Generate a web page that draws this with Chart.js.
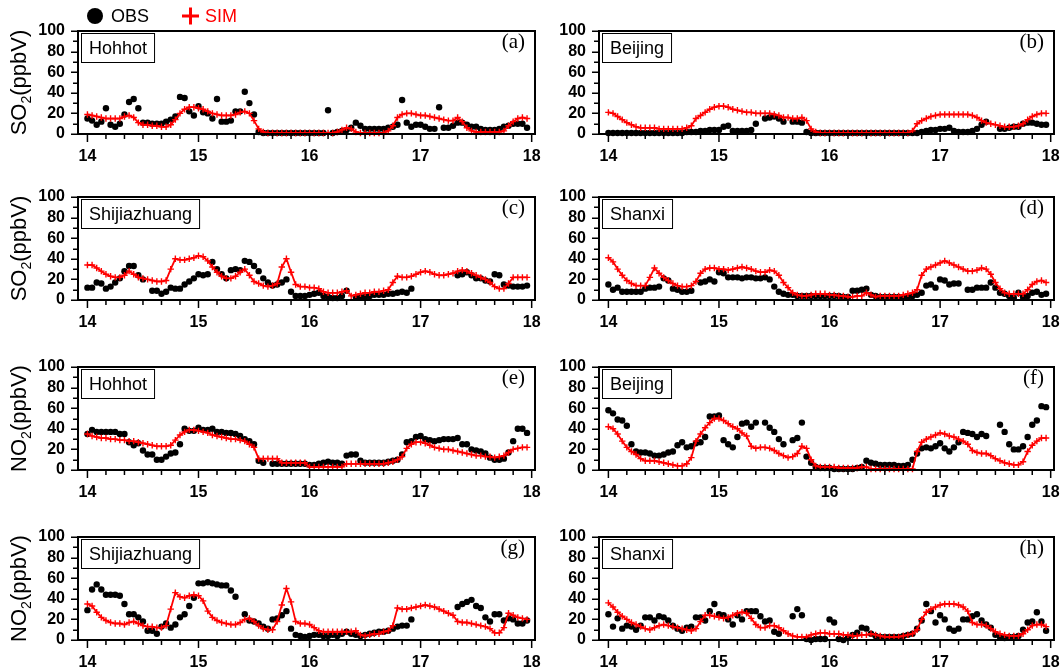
<!DOCTYPE html>
<html>
<head>
<meta charset="utf-8">
<script src="https://cdn.jsdelivr.net/npm/chart.js@4.4.1/dist/chart.umd.min.js"></script>
<style>
html,body{margin:0;padding:0;background:#fff;width:1064px;height:670px;overflow:hidden;position:relative}
canvas{position:absolute}
</style>
</head>
<body>
<canvas id="p0"></canvas><canvas id="p1"></canvas>
<canvas id="p2"></canvas><canvas id="p3"></canvas>
<canvas id="p4"></canvas><canvas id="p5"></canvas>
<canvas id="p6"></canvas><canvas id="p7"></canvas>
<script>
// ---------- DATA (hourly, day 14 00h .. day 17 23h) ----------
const startDay = 14;
const hoursPerDay = 24;
const xTickLabels = [14, 15, 16, 17, 18];
const yTickValues = [0, 20, 40, 60, 80, 100];
const sites = ['Hohhot', 'Beijing', 'Shijiazhuang', 'Shanxi', 'Hohhot', 'Beijing', 'Shijiazhuang', 'Shanxi'];
const panelTags = ['(a)', '(b)', '(c)', '(d)', '(e)', '(f)', '(g)', '(h)'];
const species = ['SO', 'SO', 'SO', 'SO', 'NO', 'NO', 'NO', 'NO'];
const legendLabels = ['OBS', 'SIM'];

const obsSO2Hohhot = [15,13,9,12,25,9,7,10,19,31,34,25,11,11,10,10,10,12,14,17,36,35,22,18,
  27,21,20,15,34,12,12,13,22,22,41,30,19,2,1,1,1,1,1,1,1,1,1,1,1,1,1,1,
  23,1,2,3,4,6,11,8,5,5,5,5,5,6,7,9,33,11,7,9,
  9,7,5,5,26,6,6,8,11,11,9,7,7,5,4,4,4,5,7,8,10,10,10,6];
const simSO2Hohhot = [19,18,17,16,15,15,15,15,17,18,16,11,9,9,8,8,7,7,9,14,20,24,26,26,
  25,24,22,20,19,18,18,18,19,21,22,20,13,5,2,1,1,1,1,1,1,1,1,1,1,1,1,1,
  1,1,2,4,6,5,2,1,1,1,1,1,1,3,8,16,19,20,20,19,
  18,18,17,16,15,14,13,13,16,12,6,3,2,2,2,2,2,2,3,8,12,15,16,15];

const obsSO2Beijing = [1,1,1,1,1,1,1,1,1,1,1,1,1,1,1,1,1,2,2,2,3,3,4,4,
  4,7,8,3,3,3,3,4,10,null,15,16,17,15,12,null,12,12,11,2,1,1,1,1,
  1,1,1,1,1,1,1,1,1,1,1,1,1,1,1,1,1,1,1,1,2,3,4,4,
  5,5,6,3,2,2,2,3,5,9,12,null,null,5,5,6,7,7,10,11,11,10,9,9];
const simSO2Beijing = [21,20,17,14,11,9,7,6,6,6,6,5,5,5,5,5,5,6,8,15,18,21,24,26,
  27,27,26,24,23,22,21,21,20,20,20,20,19,18,16,16,15,15,16,13,5,2,1,1,
  1,1,1,1,1,1,1,1,1,1,1,1,1,1,1,1,1,1,3,10,13,15,17,18,
  19,19,19,19,19,19,19,18,16,13,11,10,9,8,7,7,7,8,10,14,17,19,20,20];

const obsSO2Shijiazhuang = [12,12,17,16,11,13,17,21,28,33,33,24,20,null,9,9,6,8,12,11,11,15,18,21,
  25,24,25,37,30,25,21,29,30,29,38,37,33,28,21,17,14,15,17,20,8,4,4,4,
  5,6,7,4,3,2,2,4,9,null,3,3,3,4,5,5,5,6,6,7,8,7,11,null,
  null,null,null,null,null,null,null,null,24,25,27,24,21,21,19,18,25,24,15,14,13,13,13,14];
const simSO2Shijiazhuang = [34,34,31,28,25,23,22,22,24,28,25,22,21,20,19,18,18,19,30,40,39,39,40,41,
  43,42,38,32,27,23,21,21,23,27,30,24,18,16,14,13,14,16,32,40,27,15,13,13,
  12,12,11,8,7,7,7,8,9,4,5,6,7,7,8,8,9,10,17,23,22,22,23,25,
  27,28,27,25,24,24,25,26,28,29,28,26,24,22,20,17,13,11,11,16,22,22,22,22];

const obsSO2Shanxi = [15,10,12,8,8,8,8,8,11,12,12,13,21,19,11,10,8,8,9,null,17,18,20,18,
  27,26,22,22,22,21,22,22,21,21,22,20,13,8,6,5,5,4,4,4,4,4,4,4,
  4,4,4,3,3,9,9,10,11,5,4,3,3,3,3,3,3,3,4,5,7,14,15,12,
  20,19,15,16,16,null,10,10,12,12,12,17,12,7,6,4,2,7,3,4,7,8,5,6];
const simSO2Shanxi = [41,37,30,24,19,16,14,14,14,22,31,26,22,19,16,14,13,13,14,18,26,30,31,31,
  30,30,29,30,31,32,31,30,28,27,27,29,28,24,17,12,7,5,4,4,5,6,6,6,
  5,5,4,4,3,3,4,4,7,5,3,4,4,4,4,4,5,6,7,10,24,30,32,34,
  36,38,36,34,32,30,28,28,29,31,30,25,17,11,7,6,6,6,6,10,15,18,19,17];

const obsNO2Hohhot = [35,39,37,37,37,37,37,35,35,27,24,26,19,15,15,10,10,13,16,17,25,40,38,38,
  41,39,39,40,37,37,36,36,35,33,30,28,25,9,7,null,6,6,6,6,6,6,6,6,
  5,5,6,7,8,7,7,6,14,15,15,9,7,7,7,7,7,8,9,10,15,27,28,32,
  33,30,29,28,29,30,30,30,31,25,25,20,19,18,16,12,10,10,11,17,28,40,40,36];
const simNO2Hohhot = [35,33,32,31,31,30,30,29,29,28,28,27,26,25,24,23,23,23,24,29,34,37,39,39,
  38,37,36,34,33,32,31,30,30,29,28,25,22,11,11,11,11,11,7,7,7,7,7,7,
  3,3,3,3,3,3,3,3,6,6,6,6,6,6,6,6,6,7,8,10,13,21,25,27,
  27,26,24,22,21,20,20,19,18,17,16,15,14,14,13,13,12,13,14,17,20,21,22,22];

const obsNO2Beijing = [58,55,49,48,43,25,18,17,17,16,14,14,15,17,18,24,27,22,23,26,27,32,52,52,
  53,29,25,22,32,45,46,42,46,null,46,41,37,30,25,null,29,31,46,13,7,3,2,2,
  2,1,1,1,1,1,2,3,9,7,6,5,5,5,5,4,4,5,10,16,21,22,21,23,
  26,21,18,22,27,37,36,35,32,35,33,null,null,44,37,25,20,20,23,32,44,48,62,61];
const simNO2Beijing = [42,40,35,28,22,18,15,11,9,9,9,8,7,6,5,4,4,6,12,28,35,41,46,50,
  50,48,45,42,40,36,33,23,21,22,22,21,19,16,14,12,13,16,23,21,10,4,3,3,
  3,3,2,2,2,2,2,3,3,1,1,1,1,1,1,1,1,1,1,18,27,30,32,34,
  36,35,33,32,30,28,25,19,17,16,16,14,11,9,7,6,5,5,8,18,24,28,31,31];

const obsNO2Shijiazhuang = [29,49,54,49,44,44,44,43,35,25,25,22,18,9,9,6,13,16,12,15,22,25,33,41,
  55,55,56,55,54,53,53,48,42,null,25,19,18,16,13,11,20,21,24,28,11,5,4,3,
  4,5,5,4,4,5,4,6,8,6,5,4,5,6,7,8,8,9,11,13,14,14,20,null,
  null,null,null,null,null,null,null,null,32,35,37,39,33,31,22,18,25,25,19,21,20,16,16,19];
const simNO2Shijiazhuang = [35,33,27,22,19,17,16,16,15,17,18,16,14,13,13,12,12,14,30,46,42,41,43,44,
  43,38,28,22,19,17,16,15,15,17,20,21,18,14,11,10,10,18,34,50,37,18,16,16,
  15,12,9,8,8,8,8,8,8,8,9,5,4,5,6,6,8,9,14,31,30,30,31,32,
  33,34,33,32,30,28,26,24,18,17,17,16,15,14,13,11,7,7,12,26,24,22,21,20];

const obsNO2Shanxi = [25,13,21,11,14,13,10,14,22,22,19,23,22,19,14,11,9,12,13,22,22,19,28,35,
  25,24,20,15,24,20,28,28,28,23,18,19,8,6,null,null,23,30,24,1,0,1,1,1,
  20,17,1,0,2,5,7,12,11,6,4,3,3,3,3,3,4,5,6,11,19,35,28,17,
  24,20,11,9,11,20,20,23,25,19,15,12,5,3,2,3,3,4,10,17,18,27,18,9];
const simNO2Shanxi = [36,32,27,23,20,17,15,13,11,10,12,14,15,14,13,12,11,10,9,11,18,24,24,23,
  22,21,22,24,26,27,26,21,15,12,12,14,14,12,9,6,4,3,3,3,5,6,7,7,
  6,6,6,5,5,4,4,5,5,6,5,4,3,3,3,3,4,5,6,10,20,27,30,32,
  34,35,35,35,34,32,28,17,15,15,14,11,8,6,5,4,4,4,6,10,14,15,15,13];

const obsSeries = [obsSO2Hohhot, obsSO2Beijing, obsSO2Shijiazhuang, obsSO2Shanxi,
                   obsNO2Hohhot, obsNO2Beijing, obsNO2Shijiazhuang, obsNO2Shanxi];
const simSeries = [simSO2Hohhot, simSO2Beijing, simSO2Shijiazhuang, simSO2Shanxi,
                   simNO2Hohhot, simNO2Beijing, simNO2Shijiazhuang, simNO2Shanxi];

// ---------- LAYOUT ----------
const rowTops = [31, 197, 367, 537];
const plotH = 103;
const padTop = 31, axisH = 35;
const cols = [
  {left: 0,   width: 560, yAxisW: 78, padRight: 25, titleX: 20},
  {left: 520, width: 544, yAxisW: 79, padRight: 10, titleX: null}
];
const SANS = '"Liberation Sans", Arial, Helvetica, sans-serif';
const SERIF = '"Liberation Serif", "Times New Roman", serif';
const RED = '#ff0000';

function toPoints(vals) {
  return vals.map((v, i) => ({x: startDay + i / hoursPerDay, y: v}));
}

const decor = {
  id: 'decor',
  afterDatasetsDraw(chart, args, o) {
    const ctx = chart.ctx, a = chart.chartArea;
    const xs = chart.scales.x, ys = chart.scales.y;
    ctx.save();
    // frame
    ctx.strokeStyle = '#000';
    ctx.lineWidth = 2;
    ctx.strokeRect(a.left, a.top, a.right - a.left, a.bottom - a.top);
    // ticks
    ctx.lineWidth = 1.5;
    ctx.beginPath();
    for (let v = 0; v <= 100; v += 10) {
      const py = Math.round(ys.getPixelForValue(v)) + 0.25;
      const len = v % 20 === 0 ? 7 : 5;
      ctx.moveTo(a.left, py); ctx.lineTo(a.left - len, py);
    }
    for (let h = 0; h <= 96; h += 4) {
      const px = xs.getPixelForValue(startDay + h / hoursPerDay);
      const len = h % 24 === 0 ? 8 : 5;
      ctx.moveTo(px, a.bottom); ctx.lineTo(px, a.bottom + len);
    }
    ctx.stroke();
    // site label box
    ctx.font = '18px ' + SANS;
    const tw = ctx.measureText(o.site).width;
    const bx = a.left + 3.5, by = a.top + 2.5, bw = tw + 15, bh = 29;
    ctx.fillStyle = '#fff';
    ctx.fillRect(bx, by, bw, bh);
    ctx.strokeStyle = '#000';
    ctx.lineWidth = 1;
    ctx.strokeRect(bx, by, bw, bh);
    ctx.fillStyle = '#000';
    ctx.textBaseline = 'middle';
    ctx.textAlign = 'left';
    ctx.fillText(o.site, bx + 7.5, by + bh / 2 + 1);
    // panel tag
    ctx.font = '21px ' + SERIF;
    ctx.textAlign = 'right';
    ctx.fillText(o.tag, a.right - 10, a.top + 11);
    // y title with subscript
    if (o.titleX != null) {
      ctx.save();
      ctx.translate(o.titleX, (a.top + a.bottom) / 2);
      ctx.rotate(-Math.PI / 2);
      const big = '22px ' + SANS, small = '14px ' + SANS;
      ctx.font = big;
      const w1 = ctx.measureText(o.species).width;
      const w3 = ctx.measureText('(ppbV)').width;
      ctx.font = small;
      const w2 = ctx.measureText('2').width;
      let x0 = -(w1 + w2 + w3) / 2;
      ctx.textAlign = 'left';
      ctx.textBaseline = 'middle';
      ctx.font = big; ctx.fillText(o.species, x0, 0);
      ctx.font = small; ctx.fillText('2', x0 + w1, 7);
      ctx.font = big; ctx.fillText('(ppbV)', x0 + w1 + w2, 0);
      ctx.restore();
    }
    // legend
    if (o.legend) {
      const ly = 16;
      ctx.fillStyle = '#000';
      ctx.beginPath(); ctx.arc(95, ly, 8, 0, Math.PI * 2); ctx.fill();
      ctx.font = '18px ' + SANS;
      ctx.textAlign = 'left'; ctx.textBaseline = 'middle';
      ctx.fillText(legendLabels[0], 111, ly + 1);
      ctx.strokeStyle = RED; ctx.lineWidth = 3;
      ctx.beginPath();
      ctx.moveTo(182, ly); ctx.lineTo(199, ly);
      ctx.moveTo(190.5, ly - 8.5); ctx.lineTo(190.5, ly + 8.5);
      ctx.stroke();
      ctx.fillStyle = RED;
      ctx.fillText(legendLabels[1], 205, ly + 1);
    }
    ctx.restore();
  }
};

for (let p = 0; p < 8; p++) {
  const col = cols[p % 2];
  const row = Math.floor(p / 2);
  const cv = document.getElementById('p' + p);
  cv.width = col.width;
  cv.height = padTop + plotH + axisH;
  cv.style.left = col.left + 'px';
  cv.style.top = (rowTops[row] - padTop) + 'px';

  new Chart(cv, {
    type: 'line',
    data: {
      datasets: [
        {
          label: legendLabels[1],
          data: toPoints(simSeries[p]),
          borderColor: RED, backgroundColor: RED,
          borderWidth: 1.8,
          pointStyle: 'cross', pointRadius: 3.2, pointBorderWidth: 1.4,
          pointBorderColor: RED,
          tension: 0, clip: false
        },
        {
          label: legendLabels[0],
          data: toPoints(obsSeries[p]),
          showLine: false,
          pointStyle: 'circle', pointRadius: 3.2, pointBorderWidth: 0,
          pointBackgroundColor: '#000', backgroundColor: '#000', borderColor: '#000',
          clip: false
        }
      ]
    },
    options: {
      responsive: false,
      animation: false,
      devicePixelRatio: 1,
      layout: {padding: {left: 0, right: col.padRight, top: padTop, bottom: 0}},
      plugins: {
        legend: {display: false},
        tooltip: {enabled: false},
        decor: {site: sites[p], tag: panelTags[p], species: species[p],
                titleX: col.titleX, legend: p === 0}
      },
      scales: {
        x: {
          type: 'linear', min: 13.915, max: 18.03,
          grid: {display: false, drawTicks: false},
          border: {display: false},
          afterBuildTicks: s => { s.ticks = xTickLabels.map(v => ({value: v})); },
          afterFit: s => { s.height = axisH; s.paddingLeft = 0; s.paddingRight = 0; },
          ticks: {
            autoSkip: false, maxRotation: 0, padding: 13, color: '#000',
            font: {family: SANS, size: 16, weight: 'bold'},
            callback: v => String(v)
          }
        },
        y: {
          type: 'linear', min: 0, max: 100,
          grid: {display: false, drawTicks: false},
          border: {display: false},
          afterBuildTicks: s => { s.ticks = yTickValues.map(v => ({value: v})); },
          afterFit: s => { s.width = col.yAxisW; s.paddingTop = 0; s.paddingBottom = 0; },
          ticks: {
            autoSkip: false, padding: 13, color: '#000',
            font: {family: SANS, size: 16, weight: 'bold'},
            callback: v => String(v)
          }
        }
      }
    },
    plugins: [decor]
  });
}
</script>
</body>
</html>
